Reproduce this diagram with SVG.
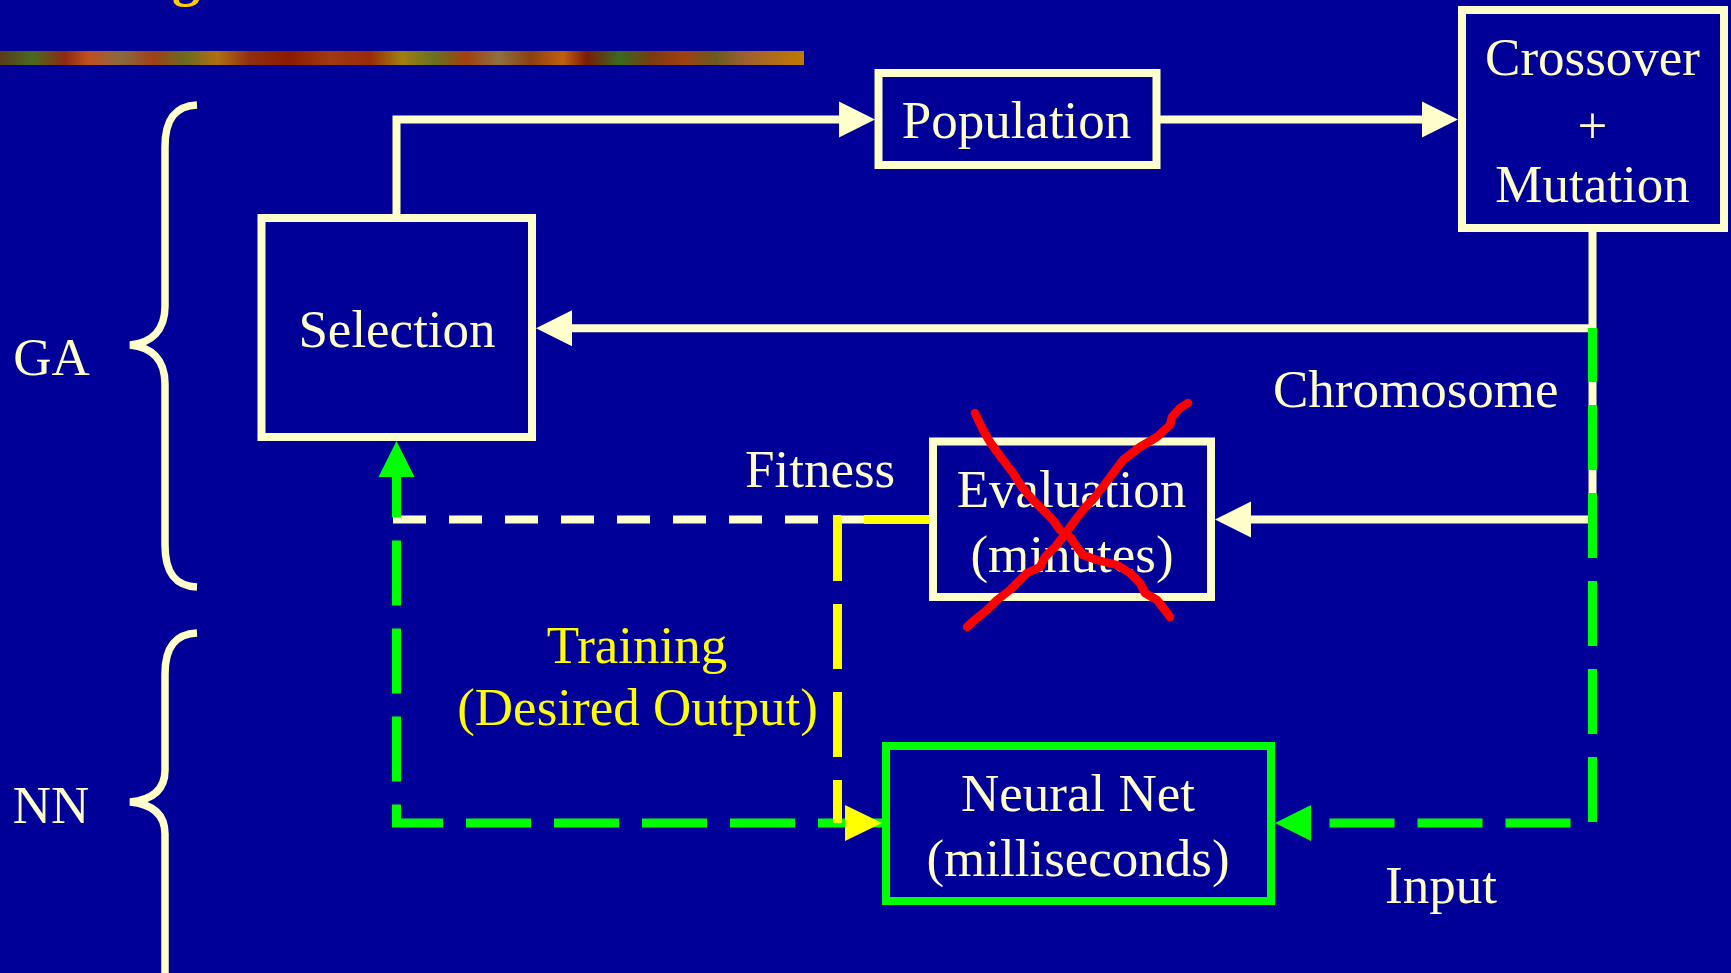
<svg xmlns="http://www.w3.org/2000/svg" width="1731" height="973" viewBox="0 0 1731 973">
<defs>
<style>
.box{fill:#000099;stroke:#FFFFCC;stroke-width:8}
.nn{fill:#000099;stroke:#00FF00;stroke-width:8}
.t{font-family:"Liberation Serif","Times New Roman",serif;font-size:53px;fill:#FFFFCC}
.ty{fill:#FFFF00}
.mid{text-anchor:middle}
.cream{fill:none;stroke:#FFFFCC;stroke-width:8}
.creamdash{fill:none;stroke:#FFFFCC;stroke-width:8;stroke-dasharray:33 23}
.green{fill:none;stroke:#00FF00;stroke-width:9;stroke-dasharray:65 23}
.yellow{fill:none;stroke:#FFFF00;stroke-width:9;stroke-dasharray:65 23}
.brace{fill:none;stroke:#FFFFCC;stroke-width:7.5;stroke-linecap:butt}
.xmark{fill:none;stroke:#FF0000;stroke-width:8.5;stroke-linecap:round;stroke-linejoin:round}
</style>
<marker id="ah-cream" markerUnits="userSpaceOnUse" markerWidth="36" markerHeight="36" refX="0" refY="18" orient="auto" overflow="visible"><path d="M0,0 L36,18 L0,36 z" fill="#FFFFCC"/></marker>
<marker id="ah-green" markerUnits="userSpaceOnUse" markerWidth="36" markerHeight="36" refX="0" refY="18" orient="auto" overflow="visible"><path d="M0,0 L36,18 L0,36 z" fill="#00FF00"/></marker>
<marker id="ah-yellow" markerUnits="userSpaceOnUse" markerWidth="37" markerHeight="36" refX="-7.5" refY="18" orient="0" overflow="visible"><path d="M0,0 L37,18 L0,36 z" fill="#FFFF00"/></marker>
<linearGradient id="strip" x1="0" y1="0" x2="1" y2="0">
<stop offset="0" stop-color="#5A3A1A"/>
<stop offset="0.04" stop-color="#4A6A20"/>
<stop offset="0.08" stop-color="#8B2A10"/>
<stop offset="0.11" stop-color="#C05020"/>
<stop offset="0.15" stop-color="#8A6A40"/>
<stop offset="0.19" stop-color="#A04018"/>
<stop offset="0.23" stop-color="#6A6A20"/>
<stop offset="0.27" stop-color="#B07010"/>
<stop offset="0.31" stop-color="#903010"/>
<stop offset="0.36" stop-color="#8B1A00"/>
<stop offset="0.41" stop-color="#A03A10"/>
<stop offset="0.46" stop-color="#9A2A08"/>
<stop offset="0.5" stop-color="#A08010"/>
<stop offset="0.54" stop-color="#6A7020"/>
<stop offset="0.58" stop-color="#A04010"/>
<stop offset="0.62" stop-color="#907040"/>
<stop offset="0.66" stop-color="#8A4010"/>
<stop offset="0.7" stop-color="#C06010"/>
<stop offset="0.73" stop-color="#7A1A08"/>
<stop offset="0.77" stop-color="#3A6A20"/>
<stop offset="0.81" stop-color="#7A3A10"/>
<stop offset="0.85" stop-color="#A04010"/>
<stop offset="0.89" stop-color="#6A5A20"/>
<stop offset="0.93" stop-color="#A06030"/>
<stop offset="1" stop-color="#C07A00"/>
</linearGradient>
</defs>
<rect x="0" y="0" width="1731" height="973" fill="#000099"/>
<text x="172" y="-5" font-family="Liberation Serif, serif" font-weight="bold" font-size="56" fill="#FFCC00">g</text>
<rect id="strip-bar" x="0" y="51" width="804" height="14" fill="url(#strip)"/>

<g id="braces">
<path class="brace" d="M197 105 C176 106 165 118 165 147 L165 306 C165 331 151 343 130 345 C151 347 165 359 165 384 L165 545 C165 574 176 586 197 587"/>
<path class="brace" d="M197 633 C176 634 165 646 165 674 L165 770 C165 791 151 800 130 802 C151 804 165 813 165 834 L165 990"/>
</g>

<g id="connectors">
<path class="cream" d="M396.5 218 V119.5 H839" marker-end="url(#ah-cream)"/>
<path class="cream" d="M1160 119.5 H1422" marker-end="url(#ah-cream)"/>
<path class="cream" d="M1592.5 228 V328.3 H572" marker-end="url(#ah-cream)"/>
<path class="cream" d="M1592.5 328 V519.5 H1251" marker-end="url(#ah-cream)"/>
<path class="creamdash" d="M393 519.5 H929"/>
<path class="green" d="M883 823 H396.5 V477" marker-end="url(#ah-green)"/>
<path class="green" style="stroke-dashoffset:11" d="M1592.5 328 V823 H1311" marker-end="url(#ah-green)"/>
<path class="yellow" d="M929 519.5 H837.5 V823" marker-end="url(#ah-yellow)"/>
</g>

<g id="node-selection">
<rect class="box" x="261.5" y="218" width="270.5" height="219"/>
<text class="t mid" x="397" y="347">Selection</text>
</g>
<g id="node-population">
<rect class="box" x="878.5" y="73" width="278" height="92"/>
<text class="t mid" x="1016.5" y="138">Population</text>
</g>
<g id="node-crossover">
<rect class="box" x="1462" y="10" width="262" height="218"/>
<text class="t mid" x="1592.5" y="75">Crossover</text>
<text class="t mid" x="1592.5" y="143">+</text>
<text class="t mid" x="1592.5" y="202">Mutation</text>
</g>
<g id="node-evaluation">
<rect class="box" x="933" y="441.5" width="278" height="155.5"/>
<text class="t mid" x="1071.5" y="507">Evaluation</text>
<text class="t mid" x="1072" y="572">(minutes)</text>
</g>
<g id="node-neuralnet">
<rect class="nn" x="886" y="746" width="385" height="155"/>
<text class="t mid" x="1078" y="811">Neural Net</text>
<text class="t mid" x="1078" y="876">(milliseconds)</text>
</g>

<g id="strike">
<path class="xmark" d="M975 413 L983 430 L990 442 L1003 460 L1013 473 L1022 487 L1033 500 L1043 510 L1053 520 L1060 530 L1070 537 L1077 547 L1083 555 L1097 560 L1117 565 L1130 573 L1140 583 L1145 593 L1157 600 L1165 610 L1170 617"/>
<path class="xmark" d="M967 627 L977 618 L987 610 L997 600 L1010 590 L1027 573 L1040 567 L1045 557 L1055 547 L1063 537 L1073 523 L1083 510 L1095 497 L1108 480 L1123 460 L1140 447 L1157 437 L1170 425 L1172 417 L1180 408 L1188 403"/>
</g>

<g id="labels">
<text class="t mid" x="51.5" y="375">GA</text>
<text class="t mid" x="51" y="823">NN</text>
<text class="t" x="1273" y="407">Chromosome</text>
<text class="t" x="745" y="487">Fitness</text>
<text class="t ty mid" x="637" y="663">Training</text>
<text class="t ty mid" x="637.5" y="725">(Desired Output)</text>
<text class="t" x="1385" y="903">Input</text>
</g>
</svg>
